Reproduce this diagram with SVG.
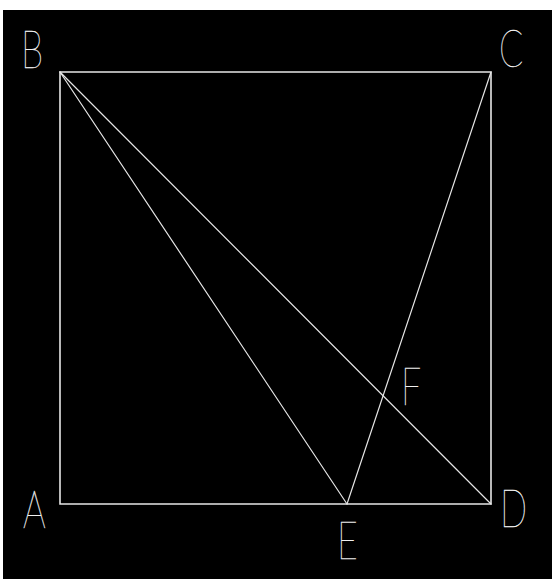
<svg xmlns="http://www.w3.org/2000/svg" width="552" height="579" viewBox="0 0 552 579">
<style>
.ln{stroke:#e6e6e6;fill:none;stroke-linecap:round}
.sq{stroke-width:1.6}
.dg{stroke-width:1.2}
.lb{font-family:"Lato","Roboto","DejaVu Sans",sans-serif;font-weight:100;font-size:51px;fill:#f0f0f0;stroke:#f0f0f0;stroke-width:0.4}
</style>
<rect x="0" y="0" width="552" height="579" fill="#ffffff"/>
<rect x="3" y="10" width="549" height="569" fill="#000000"/>
<g id="connectors">
<path class="ln sq" d="M60,72 H491 V504 H60 Z"/>
<path class="ln dg" d="M60,72 L347,504"/>
<path class="ln dg" d="M60,72 L491,504"/>
<path class="ln dg" d="M491,72 L347,504"/>
</g>
<g id="B"><text class="lb" transform="translate(21,68) scale(0.7,1)">B</text></g>
<g id="C"><text class="lb" transform="translate(499,67) scale(0.7,1)">C</text></g>
<g id="A"><text class="lb" transform="translate(23,528) scale(0.7,1)">A</text></g>
<g id="D"><text class="lb" transform="translate(500,527) scale(0.7,1)">D</text></g>
<g id="E"><text class="lb" transform="translate(337,559) scale(0.7,1)">E</text></g>
<g id="F"><text class="lb" transform="translate(401,405) scale(0.7,1)">F</text></g>
</svg>
